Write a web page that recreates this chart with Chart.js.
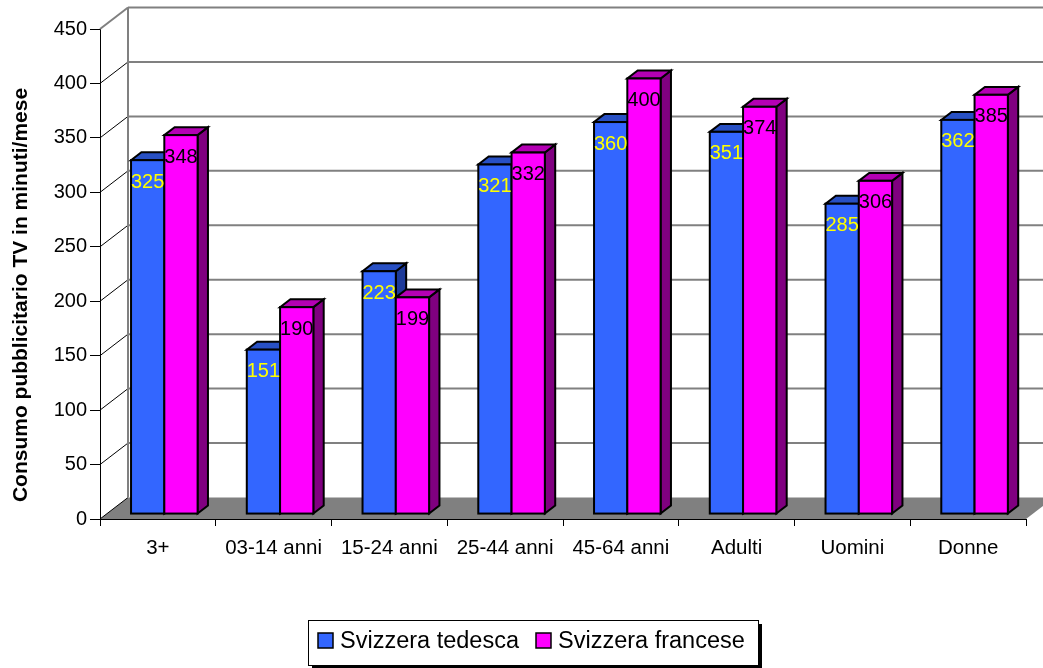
<!DOCTYPE html>
<html>
<head>
<meta charset="utf-8">
<script src="https://cdn.jsdelivr.net/npm/chart.js@4"></script>
<style>
  html, body { margin: 0; padding: 0; background: #fff; }
  canvas { display: block; }
</style>
</head>
<body>
<canvas id="tvChart" width="1043" height="668"></canvas>
<script>
const categories = ['3+', '03-14 anni', '15-24 anni', '25-44 anni', '45-64 anni', 'Adulti', 'Uomini', 'Donne'];
const tedesca = [325, 151, 223, 321, 360, 351, 285, 362];
const francese = [348, 190, 199, 332, 400, 374, 306, 385];
const seriesNames = ['Svizzera tedesca', 'Svizzera francese'];
const yTitle = 'Consumo pubblicitario TV in minuti/mese';

const FONT = "'Liberation Sans', Arial, sans-serif";

// colori delle facce: fronte, sopra, lato
const faces = [
  { front: '#3366FF', top: '#2850C4', side: '#1D3A99', label: '#FFFF00' },
  { front: '#FF00FF', top: '#B400B4', side: '#800080', label: '#000000' }
];

// profondita' della scatola 3D (parete di fondo) e posizione delle colonne
const WALL_DX = 28, WALL_DY = -21.5;
const BAR_FRONT = 0.23, BAR_DEPTH = 0.37;

function drawBox(ctx, x0, x1, yTop, yBot, dx, dy, c) {
  ctx.lineWidth = 2;
  ctx.lineJoin = 'miter';
  ctx.strokeStyle = '#000';
  // lato
  ctx.beginPath();
  ctx.moveTo(x1, yTop);
  ctx.lineTo(x1 + dx, yTop + dy);
  ctx.lineTo(x1 + dx, yBot + dy);
  ctx.lineTo(x1, yBot);
  ctx.closePath();
  ctx.fillStyle = c.side;
  ctx.fill();
  ctx.stroke();
  // sopra
  ctx.beginPath();
  ctx.moveTo(x0, yTop);
  ctx.lineTo(x1, yTop);
  ctx.lineTo(x1 + dx, yTop + dy);
  ctx.lineTo(x0 + dx, yTop + dy);
  ctx.closePath();
  ctx.fillStyle = c.top;
  ctx.fill();
  ctx.stroke();
  // fronte
  ctx.fillStyle = c.front;
  ctx.fillRect(x0, yTop, x1 - x0, yBot - yTop);
  ctx.strokeRect(x0, yTop, x1 - x0, yBot - yTop);
}

const box3d = {
  id: 'box3d',
  beforeDatasetsDraw(chart) {
    const { ctx, chartArea: a, scales: { y } } = chart;
    const W = chart.width;
    ctx.save();

    // pavimento
    ctx.beginPath();
    ctx.moveTo(a.left, a.bottom);
    ctx.lineTo(a.right, a.bottom);
    ctx.lineTo(a.right + WALL_DX, a.bottom + WALL_DY);
    ctx.lineTo(a.left + WALL_DX, a.bottom + WALL_DY);
    ctx.closePath();
    ctx.fillStyle = '#808080';
    ctx.fill();

    // griglia sulla parete di fondo e diagonali sulla parete sinistra
    y.ticks.forEach(t => {
      const py = y.getPixelForValue(t.value);
      const top = t.value === y.max;
      ctx.strokeStyle = '#808080';
      ctx.lineWidth = 2;
      if (t.value !== y.min) {
        ctx.beginPath();
        ctx.moveTo(a.left + WALL_DX, py + WALL_DY);
        ctx.lineTo(W, py + WALL_DY);
        ctx.stroke();
      }
      ctx.strokeStyle = top ? '#808080' : '#000';
      ctx.lineWidth = top ? 2 : 1;
      ctx.beginPath();
      ctx.moveTo(a.left, py);
      ctx.lineTo(a.left + WALL_DX, py + WALL_DY);
      ctx.stroke();
    });
    ctx.strokeStyle = '#808080';
    ctx.lineWidth = 2;
    ctx.beginPath();
    ctx.moveTo(a.left + WALL_DX, a.top + WALL_DY);
    ctx.lineTo(a.left + WALL_DX, a.bottom + WALL_DY);
    ctx.stroke();

    // bordo anteriore del pavimento
    ctx.strokeStyle = '#000';
    ctx.lineWidth = 1;
    ctx.beginPath();
    ctx.moveTo(a.left, a.bottom + 0.5);
    ctx.lineTo(a.right, a.bottom + 0.5);
    ctx.stroke();

    // colonne 3D
    const ox = WALL_DX * BAR_FRONT, oy = WALL_DY * BAR_FRONT;
    const dx = WALL_DX * BAR_DEPTH, dy = WALL_DY * BAR_DEPTH;
    const metas = chart.data.datasets.map((d, i) => chart.getDatasetMeta(i));
    categories.forEach((c, i) => {
      metas.forEach((m, s) => {
        const bar = m.data[i];
        const x0 = bar.x - bar.width / 2 + ox;
        const x1 = bar.x + bar.width / 2 + ox;
        drawBox(ctx, x0, x1, bar.y + oy, bar.base + oy, dx, dy, faces[s]);
      });
    });

    // etichette dei valori
    ctx.font = '20px ' + FONT;
    ctx.textAlign = 'center';
    ctx.textBaseline = 'middle';
    metas.forEach((m, s) => {
      const values = chart.data.datasets[s].data;
      m.data.forEach((bar, i) => {
        ctx.fillStyle = faces[s].label;
        ctx.fillText(String(values[i]), bar.x + ox, bar.y + 17);
      });
    });

    ctx.restore();
    return false;
  },
  afterDraw(chart) {
    const { ctx } = chart;
    ctx.save();

    // titolo asse verticale
    ctx.translate(21, 295);
    ctx.rotate(-Math.PI / 2);
    ctx.font = 'bold 21px ' + FONT;
    ctx.fillStyle = '#000';
    ctx.textAlign = 'center';
    ctx.textBaseline = 'middle';
    ctx.fillText(yTitle, 0, 0);
    ctx.setTransform(1, 0, 0, 1, 0, 0);

    // legenda con ombra
    const lx = 308, ly = 620, lw = 450, lh = 45;
    ctx.fillStyle = '#000';
    ctx.fillRect(lx + 4, ly + 4, lw, lh);
    ctx.fillStyle = '#fff';
    ctx.fillRect(lx, ly, lw, lh);
    ctx.strokeStyle = '#000';
    ctx.lineWidth = 1;
    ctx.strokeRect(lx + 0.5, ly + 0.5, lw, lh);

    ctx.font = '23.5px ' + FONT;
    ctx.textAlign = 'left';
    ctx.textBaseline = 'middle';
    const itemX = [318, 536];
    chart.data.datasets.forEach((d, s) => {
      const bx = itemX[s];
      ctx.fillStyle = faces[s].front;
      ctx.fillRect(bx, 633, 15, 15);
      ctx.strokeStyle = '#000';
      ctx.lineWidth = 1.5;
      ctx.strokeRect(bx, 633, 15, 15);
      ctx.fillStyle = '#000';
      ctx.fillText(d.label, bx + 22, 642);
    });

    ctx.restore();
  }
};

new Chart(document.getElementById('tvChart'), {
  type: 'bar',
  data: {
    labels: categories,
    datasets: [
      { label: seriesNames[0], data: tedesca, backgroundColor: faces[0].front },
      { label: seriesNames[1], data: francese, backgroundColor: faces[1].front }
    ]
  },
  options: {
    responsive: false,
    devicePixelRatio: 1,
    animation: false,
    layout: { padding: { left: 0, right: 17, top: 29, bottom: 0 } },
    datasets: { bar: { categoryPercentage: 0.575, barPercentage: 1.0 } },
    plugins: {
      legend: { display: false },
      tooltip: { enabled: false }
    },
    scales: {
      x: {
        offset: true,
        grid: { offset: true, drawOnChartArea: false, tickLength: 7, color: '#000' },
        border: { color: '#000' },
        ticks: { color: '#000', font: { size: 20.5, family: FONT }, padding: 10, maxRotation: 0, autoSkip: false },
        afterFit(s) { s.height = 149; }
      },
      y: {
        min: 0,
        max: 450,
        ticks: { stepSize: 50, color: '#000', font: { size: 20, family: FONT }, padding: 3 },
        grid: { drawOnChartArea: false, tickLength: 10, color: '#000' },
        border: { color: '#000' },
        afterFit(s) { s.width = 100; }
      }
    }
  },
  plugins: [box3d]
});
</script>
</body>
</html>
